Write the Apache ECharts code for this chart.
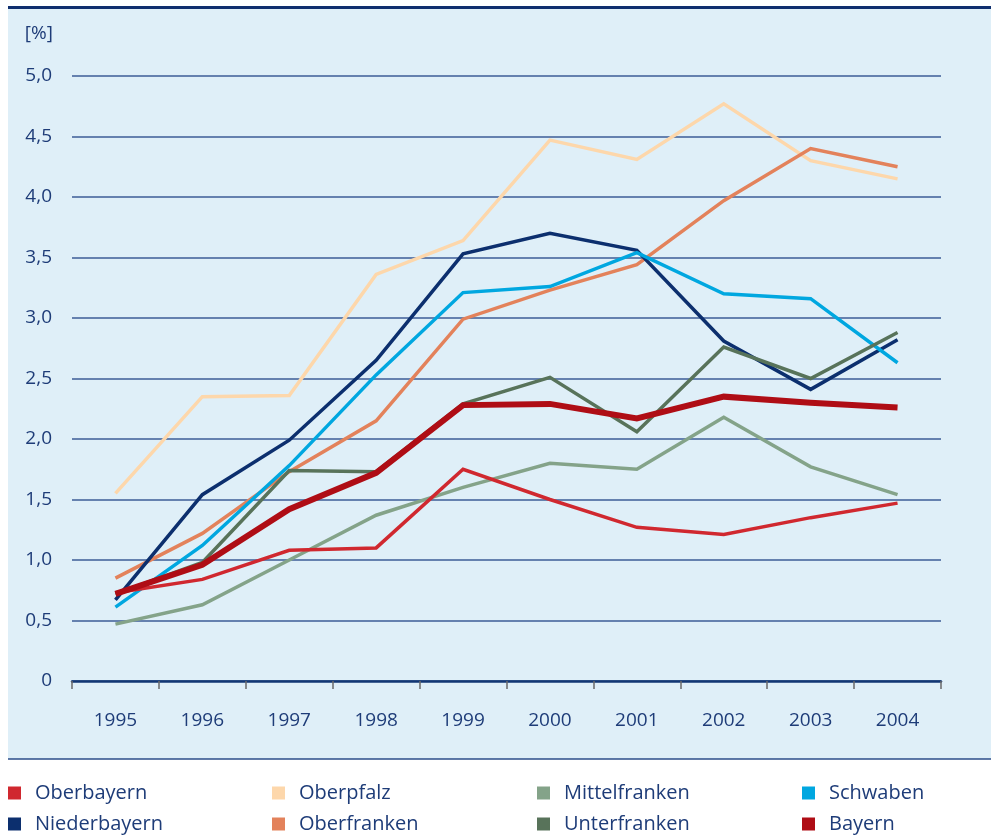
<!DOCTYPE html>
<html><head><meta charset="utf-8">
<script src="https://cdn.jsdelivr.net/npm/echarts@6/dist/echarts.min.js"></script>
<style>html,body{margin:0;padding:0;background:#fff}#c{width:991px;height:836px}</style>
</head><body><div id="c"></div>
<script>
const years = ['1995','1996','1997','1998','1999','2000','2001','2002','2003','2004'];
const oberbayern   = [0.73,0.84,1.08,1.10,1.75,1.50,1.27,1.21,1.35,1.47];
const niederbayern = [0.67,1.54,1.99,2.65,3.53,3.70,3.56,2.81,2.41,2.82];
const oberpfalz    = [1.55,2.35,2.36,3.36,3.64,4.47,4.31,4.77,4.30,4.15];
const oberfranken  = [0.85,1.22,1.73,2.15,2.99,3.23,3.44,3.97,4.40,4.25];
const mittelfranken= [0.47,0.63,1.00,1.37,1.60,1.80,1.75,2.18,1.77,1.54];
const unterfranken = [0.72,0.98,1.74,1.73,2.29,2.51,2.06,2.76,2.50,2.88];
const schwaben     = [0.61,1.12,1.78,2.53,3.21,3.26,3.54,3.20,3.16,2.63];
const bayern       = [0.72,0.96,1.42,1.72,2.28,2.29,2.17,2.35,2.30,2.26];

const colors = {
  'Oberbayern':'#d0282f','Niederbayern':'#0c2f6e','Oberpfalz':'#fdd7ab','Oberfranken':'#e3825b',
  'Mittelfranken':'#84a389','Unterfranken':'#58735a','Schwaben':'#00a7e0','Bayern':'#af0d15'
};
const values = {
  'Oberbayern':oberbayern,'Niederbayern':niederbayern,'Oberpfalz':oberpfalz,'Oberfranken':oberfranken,
  'Mittelfranken':mittelfranken,'Unterfranken':unterfranken,'Schwaben':schwaben,'Bayern':bayern
};
const drawOrder = ['Oberpfalz','Oberfranken','Mittelfranken','Niederbayern','Schwaben','Oberbayern','Unterfranken','Bayern'];
const txt = '#1e3c78';
const font = "'Open Sans', 'Noto Sans', sans-serif";

const chart = echarts.init(document.getElementById('c'), null, {renderer:'canvas'});
const legendCols = [['Oberbayern','Niederbayern'],['Oberpfalz','Oberfranken'],['Mittelfranken','Unterfranken'],['Schwaben','Bayern']];
const legendX = [8, 272, 537, 802];
chart.setOption({
  backgroundColor:'#ffffff',
  animation:false,
  graphic:[
    {type:'rect', z:-10, shape:{x:8,y:8,width:983,height:751}, style:{fill:'#dfeff8'}},
    {type:'line', z:5, shape:{x1:8,y1:7.5,x2:991,y2:7.5}, style:{stroke:'#0f2f6e',lineWidth:3}},
    {type:'line', z:5, shape:{x1:8,y1:759,x2:991,y2:759}, style:{stroke:'#2b4c8a',lineWidth:1.5}}
  ],
  grid:{left:72, right:50, top:76, bottom:155, containLabel:false},
  legend: legendCols.map((d,i)=>({
    data:d, orient:'vertical', left:legendX[i], top:783, height:53, padding:0, itemGap:11,
    icon:'rect', itemWidth:13, itemHeight:13,
    textStyle:{color:txt, fontSize:20, lineHeight:20, fontFamily:font, padding:[0,0,0,9]}
  })),
  xAxis:{
    type:'category', data:years, boundaryGap:true,
    axisLine:{lineStyle:{color:'#123774', width:2.5}},
    axisTick:{show:true, length:8, lineStyle:{color:'#6a6a6a', width:1.5}},
    axisLabel:{color:txt, fontSize:19, fontFamily:font, margin:30}
  },
  yAxis:{
    type:'value', min:0, max:5, interval:0.5,
    name:'[%]', nameLocation:'end', nameGap:33,
    nameTextStyle:{color:txt, fontSize:19, fontFamily:font, align:'right', padding:[0,19,0,0]},
    axisLine:{show:false}, axisTick:{show:false},
    axisLabel:{color:txt, fontSize:19, fontFamily:font, margin:20,
      formatter:v=> v===0 ? '0' : v.toFixed(1).replace('.',',')},
    splitLine:{lineStyle:{color:'#3d5c97', width:1.5}}
  },
  series: drawOrder.map(n=>({
    name:n, type:'line', data:values[n], symbol:'none',
    itemStyle:{color:colors[n]},
    lineStyle:{color:colors[n], width: n==='Bayern'?6:3.5, join:'miter'},
    z: n==='Bayern'?4:2
  }))
});
</script></body></html>
